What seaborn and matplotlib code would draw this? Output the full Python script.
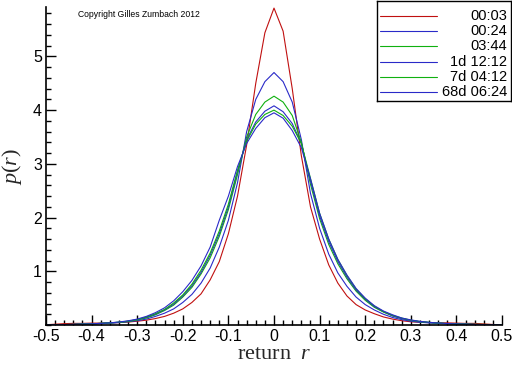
import numpy as np
import pandas as pd
import matplotlib
matplotlib.use("Agg")
import matplotlib.pyplot as plt
import seaborn as sns

# ---------------- data ----------------
r_grid = [round(-0.5 + 0.02 * i, 2) for i in range(51)]

series_names = ["00:03", "00:24", "03:44", "1d 12:12", "7d 04:12", "68d 06:24"]
series_colors = ["#c01010", "#2a2ac8", "#10b010", "#2a2ac8", "#10b010", "#2a2ac8"]

p_0003 = [0.005, 0.015, 0.025, 0.03, 0.03, 0.035, 0.035, 0.04, 0.045, 0.055, 0.07, 0.09,
          0.12, 0.16, 0.22, 0.30, 0.42, 0.58, 0.84, 1.18, 1.70, 2.40, 3.35, 4.50, 5.44,
          5.90,
          5.47, 4.40, 3.15, 2.20, 1.60, 1.12, 0.78, 0.54, 0.38, 0.28, 0.21, 0.15, 0.11,
          0.08, 0.06, 0.05, 0.045, 0.04, 0.04, 0.035, 0.03, 0.03, 0.02, 0.01, 0.0]
p_0024 = [0.002, 0.004, 0.007, 0.01, 0.015, 0.02, 0.025, 0.035, 0.045, 0.06, 0.08, 0.11,
          0.16, 0.22, 0.30, 0.42, 0.57, 0.78, 1.06, 1.45, 1.95, 2.65, 3.60, 4.20, 4.53,
          4.70,
          4.53, 4.15, 3.45, 2.45, 1.80, 1.32, 0.97, 0.72, 0.52, 0.38, 0.28, 0.20, 0.14,
          0.10, 0.07, 0.05, 0.04, 0.03, 0.025, 0.02, 0.015, 0.01, 0.007, 0.004, 0.002]
p_0344 = [0.003, 0.005, 0.008, 0.011, 0.016, 0.022, 0.03, 0.04, 0.05, 0.065, 0.095, 0.13,
          0.19, 0.27, 0.37, 0.52, 0.70, 0.95, 1.25, 1.65, 2.15, 2.80, 3.50, 3.92, 4.15,
          4.26,
          4.15, 3.90, 3.40, 2.62, 1.98, 1.50, 1.14, 0.86, 0.63, 0.46, 0.33, 0.24, 0.17,
          0.12, 0.085, 0.06, 0.045, 0.035, 0.025, 0.02, 0.015, 0.01, 0.008, 0.005, 0.003]
p_1d = [0.003, 0.005, 0.008, 0.011, 0.016, 0.022, 0.03, 0.04, 0.05, 0.07, 0.10, 0.14,
        0.20, 0.28, 0.39, 0.54, 0.73, 0.98, 1.30, 1.70, 2.20, 2.85, 3.45, 3.78, 3.98,
        4.08,
        3.97, 3.75, 3.38, 2.68, 2.03, 1.55, 1.18, 0.89, 0.65, 0.48, 0.34, 0.25, 0.17,
        0.12, 0.085, 0.06, 0.045, 0.035, 0.025, 0.02, 0.015, 0.01, 0.008, 0.005, 0.003]
p_7d = [0.003, 0.005, 0.008, 0.011, 0.016, 0.022, 0.03, 0.04, 0.052, 0.072, 0.10, 0.15,
        0.21, 0.29, 0.41, 0.56, 0.76, 1.02, 1.34, 1.75, 2.25, 2.88, 3.42, 3.74, 3.92,
        4.00,
        3.90, 3.70, 3.38, 2.73, 2.08, 1.60, 1.22, 0.92, 0.67, 0.49, 0.35, 0.25, 0.18,
        0.13, 0.09, 0.065, 0.05, 0.035, 0.027, 0.02, 0.015, 0.012, 0.01, 0.008, 0.006]
p_68d = [0.003, 0.005, 0.008, 0.011, 0.016, 0.022, 0.03, 0.04, 0.055, 0.078, 0.11, 0.16,
         0.23, 0.32, 0.45, 0.62, 0.83, 1.10, 1.45, 1.95, 2.40, 2.95, 3.38, 3.66, 3.86,
         3.95,
         3.85, 3.62, 3.30, 2.72, 2.08, 1.60, 1.22, 0.93, 0.68, 0.50, 0.36, 0.26, 0.19,
         0.13, 0.095, 0.068, 0.05, 0.037, 0.028, 0.02, 0.015, 0.01, 0.007, 0.005, 0.003]

series_values = [p_0003, p_0024, p_0344, p_1d, p_7d, p_68d]

x_ticks = [-0.5, -0.4, -0.3, -0.2, -0.1, 0.0, 0.1, 0.2, 0.3, 0.4, 0.5]
x_tick_labels = ["-0.5", "-0.4", "-0.3", "-0.2", "-0.1", "0", "0.1", "0.2", "0.3", "0.4", "0.5"]
y_ticks = [1, 2, 3, 4, 5]
y_tick_labels = ["1", "2", "3", "4", "5"]

# ---------------- figure ----------------
sns.set_style("white")
plt.rcParams["font.family"] = ["Liberation Sans", "DejaVu Sans"]
plt.rcParams["axes.unicode_minus"] = False
plt.rcParams["mathtext.fontset"] = "custom"
plt.rcParams["mathtext.rm"] = "Liberation Serif"
plt.rcParams["mathtext.it"] = "Liberation Serif:italic"

rows = []
for name, vals in zip(series_names, series_values):
    for x, y in zip(r_grid, vals):
        rows.append({"r": x, "p": y, "series": name})
df = pd.DataFrame(rows)
palette = dict(zip(series_names, series_colors))

fig = plt.figure(figsize=(5.12, 3.66), dpi=100)
ax = fig.add_axes([46 / 512, 41 / 366, 456 / 512, 318 / 366])

sns.lineplot(data=df, x="r", y="p", hue="series", hue_order=series_names,
             palette=palette, linewidth=0.8, legend=False, ax=ax, sort=False,
             estimator=None)

ax.set_xlim(-0.5, 0.5)
ax.set_ylim(0, 5.92)
ax.set_xticks(x_ticks)
ax.set_xticklabels(x_tick_labels)
ax.set_yticks(y_ticks)
ax.set_yticklabels(y_tick_labels)
ax.set_xticks(np.arange(-0.5, 0.5001, 0.02), minor=True)
ax.set_yticks(np.arange(0, 5.9, 0.2), minor=True)
ax.tick_params(axis="both", which="major", direction="in", length=7, width=1,
               labelsize=11.5, color="black", labelcolor="black", pad=3)
ax.tick_params(axis="both", which="minor", direction="in", length=3.5, width=1,
               color="black")
ax.tick_params(axis="x", which="both", bottom=True)
ax.tick_params(axis="y", which="both", left=True)

for side in ["top", "right"]:
    ax.spines[side].set_visible(False)
for side in ["left", "bottom"]:
    ax.spines[side].set_color("black")
    ax.spines[side].set_linewidth(1.2)

ax.set_xlabel(r"$\mathrm{return}\ \ r$", fontsize=16, labelpad=-1)
ax.set_ylabel(r"$p(r)$", fontsize=16, labelpad=6)

ax.text(0.07, 0.975, "Copyright Gilles Zumbach 2012", transform=ax.transAxes,
        fontsize=6.2, ha="left", va="center", color="black")

# legend box (manual, to mimic the right-aligned labels)
lax = fig.add_axes([377 / 512, (366 - 101) / 366, 134 / 512, 100 / 366])
lax.set_xlim(0, 134)
lax.set_ylim(100, 0)
lax.set_xticks([])
lax.set_yticks([])
for s in lax.spines.values():
    s.set_color("black")
    s.set_linewidth(1.0)
row_y = [15, 30, 45, 61, 76, 91]
for name, col, yy in zip(series_names, series_colors, row_y):
    lax.plot([3, 60], [yy, yy], color=col, linewidth=0.8)
    lax.text(130, yy, name, ha="right", va="center", fontsize=10.5, color="black")

fig.savefig("out.png", dpi=100)
